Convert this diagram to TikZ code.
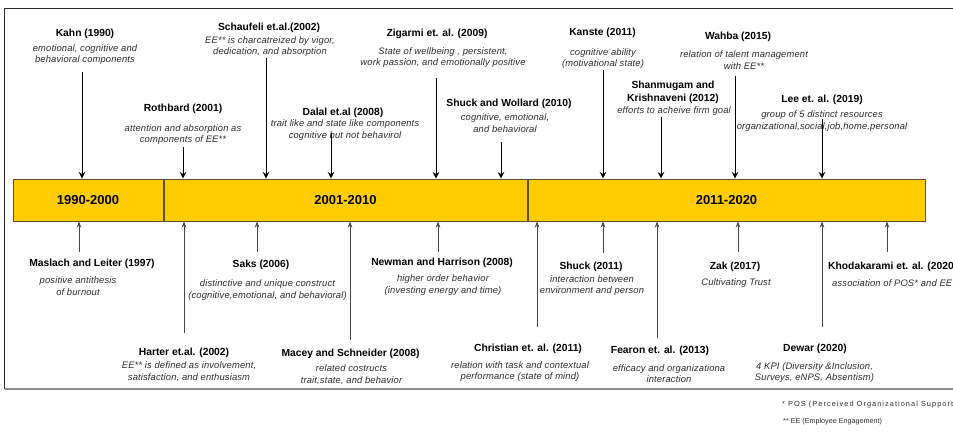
\documentclass[tikz,border=0pt]{standalone}
\usepackage{fontspec}
\setmainfont{Liberation Sans}
\usetikzlibrary{arrows.meta,positioning}
\definecolor{barfill}{RGB}{255,204,0}
\definecolor{barline}{RGB}{90,80,40}
\definecolor{desctext}{RGB}{45,45,45}
\definecolor{upline}{RGB}{70,70,70}

\begin{document}
\begin{tikzpicture}[x=1pt,y=-1pt]
      \tikzstyle{period}=[draw=barline,line width=1pt,fill=barfill,minimum height=42pt,inner sep=0pt,font=\fontsize{13}{15}\selectfont\bfseries]
      \tikzstyle{author}=[inner sep=0pt,align=center,font=\fontsize{10.3}{13}\selectfont\bfseries]
      \tikzstyle{finding}=[inner sep=0pt,align=center,text=desctext,font=\fontsize{9.4}{11.5}\selectfont\itshape\addfontfeatures{LetterSpace=1.5}]
      \tikzstyle{note}=[inner sep=0pt,anchor=west,text=desctext,font=\fontsize{7.2}{9}\selectfont]
      \tikzstyle{down}=[line width=1pt,-{Stealth[length=6.5pt,width=6.5pt]}]
      \tikzstyle{up}=[line width=0.6pt,draw=upline,-{Stealth[length=6pt,width=4.5pt]}]
      \useasboundingbox (0,0) rectangle (953,431);
      \draw[line width=1.3pt,draw=black!85] (960,8.5) -- (4.5,8.5) -- (4.5,389);
      \draw[line width=1.3pt,draw=black!45] (4.5,389) -- (960,389);
      % the three decades
      \node[period,minimum width=150pt] (p1) at (88,200) {1990-2000};
      \node[period,minimum width=363pt,anchor=west] (p2) at (p1.east) {2001-2010};
      \node[period,minimum width=397pt,anchor=west] (p3) at (p2.east) {2011-2020};
      % above the bar
      \node[author] (kahn) at (85,34) {Kahn (1990)};
      \node[finding] (kahn-d) at (85,54.5) {emotional, cognitive and\\behavioral components};
      \coordinate (kahn-a) at (82,72);
      \node[author] (rothbard) at (183,109) {Rothbard (2001)};
      \node[finding] (rothbard-d) at (183,134.5) {attention and absorption as\\components of EE**};
      \coordinate (rothbard-a) at (183,147);
      \node[author] (schaufeli) at (269,28) {Schaufeli et.al.(2002)};
      \node[finding] (schaufeli-d) at (270,46.5) {EE** is charcatreized by vigor,\\dedication, and absorption};
      \coordinate (schaufeli-a) at (266,58);
      \node[author] (dalal) at (343,113) {Dalal et.al (2008)};
      \node[finding] (dalal-d) at (345,130) {trait like and state like components\\cognitive but not behavirol};
      \coordinate (dalal-a) at (331,133);
      \node[author] (zigarmi) at (437,34) {Zigarmi et. al. (2009)};
      \node[finding] (zigarmi-d) at (443,57.5) {State of wellbeing , persistent,\\work passion, and  emotionally positive};
      \coordinate (zigarmi-a) at (436,78);
      \node[author] (wollard) at (509,104) {Shuck and Wollard (2010)};
      \node[finding] (wollard-d) at (505,123) {cognitive, emotional,\\and behavioral};
      \coordinate (wollard-a) at (501,142);
      \node[author] (kanste) at (602.5,33) {Kanste (2011)};
      \node[finding] (kanste-d) at (603,58.5) {cognitive ability\\(motivational state)};
      \coordinate (kanste-a) at (603,70);
      \node[author] (shanmugam) at (673,92.5) {Shanmugam and\\Krishnaveni (2012)};
      \node[finding] (shanmugam-d) at (674,111) {efforts to acheive firm goal};
      \coordinate (shanmugam-a) at (661,117);
      \node[author] (wahba) at (738,37) {Wahba (2015)};
      \node[finding] (wahba-d) at (744,60) {relation of talent management\\with EE**};
      \coordinate (wahba-a) at (735,76);
      \node[author] (lee) at (822,100) {Lee et. al. (2019)};
      \node[finding] (lee-d) at (822,121) {group of 5 distinct resources\\organizational,social,job,home,personal};
      \coordinate (lee-a) at (822,119);
      \draw[down] (kahn-a) -- (kahn-a |- p1.north);
      \draw[down] (rothbard-a) -- (rothbard-a |- p2.north);
      \draw[down] (schaufeli-a) -- (schaufeli-a |- p2.north);
      \draw[down] (dalal-a) -- (dalal-a |- p2.north);
      \draw[down] (zigarmi-a) -- (zigarmi-a |- p2.north);
      \draw[down] (wollard-a) -- (wollard-a |- p2.north);
      \draw[down] (kanste-a) -- (kanste-a |- p3.north);
      \draw[down] (shanmugam-a) -- (shanmugam-a |- p3.north);
      \draw[down] (wahba-a) -- (wahba-a |- p3.north);
      \draw[down] (lee-a) -- (lee-a |- p3.north);
      % below the bar
      \node[author] (maslach) at (92,264) {Maslach and Leiter (1997)};
      \node[finding] (maslach-d) at (78,286) {positive antithesis\\of burnout};
      \coordinate (maslach-a) at (79,252);
      \node[author] (harter) at (184,353) {Harter et.al. (2002)};
      \node[finding] (harter-d) at (189,371.5) {EE** is defined as involvement,\\satisfaction, and enthusiasm};
      \coordinate (harter-a) at (184,333);
      \node[author] (saks) at (261,265) {Saks (2006)};
      \node[finding] (saks-d) at (267.5,290) {distinctive and unique construct\\(cognitive,emotional, and behavioral)};
      \coordinate (saks-a) at (257,252);
      \node[author] (macey) at (350.5,354) {Macey and Schneider (2008)};
      \node[finding] (macey-d) at (351.5,374.5) {related costructs\\trait,state, and behavior};
      \coordinate (macey-a) at (350,340);
      \node[author] (newman) at (442,263) {Newman and Harrison (2008)};
      \node[finding] (newman-d) at (443,285) {higher order behavior\\(investing energy and time)};
      \coordinate (newman-a) at (438,252);
      \node[author] (christian) at (528,349) {Christian et. al. (2011)};
      \node[finding] (christian-d) at (520,371.5) {relation with task and contextual\\performance (state of mind)};
      \coordinate (christian-a) at (537,327);
      \node[author] (shuck) at (591,266.5) {Shuck (2011)};
      \node[finding] (shuck-d) at (592,285.5) {interaction between\\environment and person};
      \coordinate (shuck-a) at (603,253);
      \node[author] (fearon) at (660,351) {Fearon et. al. (2013)};
      \node[finding] (fearon-d) at (669,373.5) {efficacy and organizationa\\interaction};
      \coordinate (fearon-a) at (657,338);
      \node[author] (zak) at (735,267) {Zak (2017)};
      \node[finding] (zak-d) at (736,283.5) {Cultivating Trust};
      \coordinate (zak-a) at (738,252);
      \node[author] (dewar) at (815,349) {Dewar (2020)};
      \node[finding] (dewar-d) at (814.5,372.5) {4 KPI (Diversity \&Inclusion,\\Surveys, eNPS, Absentism)};
      \coordinate (dewar-a) at (822,327);
      \node[author,anchor=west] (khodakarami) at (828,267) {Khodakarami et. al. (2020)};
      \node[finding,anchor=west] (khodakarami-d) at (832,283.5) {association of POS* and EE**};
      \coordinate (khodakarami-a) at (887,252);
      \draw[up] (maslach-a) -- (maslach-a |- p1.south);
      \draw[up] (harter-a) -- (harter-a |- p2.south);
      \draw[up] (saks-a) -- (saks-a |- p2.south);
      \draw[up] (macey-a) -- (macey-a |- p2.south);
      \draw[up] (newman-a) -- (newman-a |- p2.south);
      \draw[up] (christian-a) -- (christian-a |- p3.south);
      \draw[up] (shuck-a) -- (shuck-a |- p3.south);
      \draw[up] (fearon-a) -- (fearon-a |- p3.south);
      \draw[up] (zak-a) -- (zak-a |- p3.south);
      \draw[up] (dewar-a) -- (dewar-a |- p3.south);
      \draw[up] (khodakarami-a) -- (khodakarami-a |- p3.south);
      % footnotes
      \node[note,font=\fontsize{7.4}{9}\selectfont\addfontfeatures{LetterSpace=14}] (pos) at (782,405) {* POS (Perceived Organizational Support)};
      \node[note] (ee) at (783,422) {** EE (Employee Engagement)};
\end{tikzpicture}
\end{document}
